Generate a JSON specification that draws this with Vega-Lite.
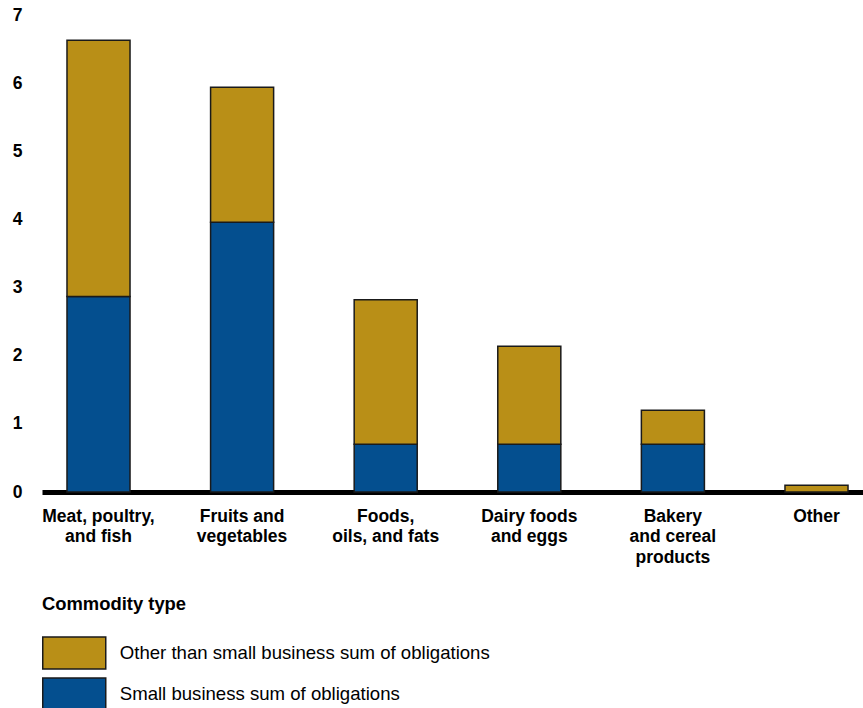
{
  "$schema": "https://vega.github.io/schema/vega-lite/v6.json",
  "width": 831,
  "height": 477,
  "autosize": {"type": "none"},
  "padding": {"left": 42, "top": 15, "right": 0, "bottom": 216},
  "background": "white",
  "config": {
    "font": "Liberation Sans",
    "view": {"stroke": null}
  },
  "data": {
    "values": [
      {"category": "Meat, poultry, and fish", "series": "Small business sum of obligations", "value": 2.87},
      {"category": "Meat, poultry, and fish", "series": "Other than small business sum of obligations", "value": 3.76},
      {"category": "Fruits and vegetables", "series": "Small business sum of obligations", "value": 3.96},
      {"category": "Fruits and vegetables", "series": "Other than small business sum of obligations", "value": 1.98},
      {"category": "Foods, oils, and fats", "series": "Small business sum of obligations", "value": 0.7},
      {"category": "Foods, oils, and fats", "series": "Other than small business sum of obligations", "value": 2.12},
      {"category": "Dairy foods and eggs", "series": "Small business sum of obligations", "value": 0.7},
      {"category": "Dairy foods and eggs", "series": "Other than small business sum of obligations", "value": 1.44},
      {"category": "Bakery and cereal products", "series": "Small business sum of obligations", "value": 0.7},
      {"category": "Bakery and cereal products", "series": "Other than small business sum of obligations", "value": 0.5},
      {"category": "Other", "series": "Small business sum of obligations", "value": 0.0},
      {"category": "Other", "series": "Other than small business sum of obligations", "value": 0.1}
    ]
  },
  "mark": {"type": "bar", "stroke": "#1a1a1a", "strokeWidth": 1.5},
  "encoding": {
    "x": {
      "field": "category",
      "type": "nominal",
      "sort": null,
      "scale": {"paddingInner": 0.561, "paddingOuter": 0.174},
      "axis": {
        "title": null,
        "labelAngle": 0,
        "domain": true,
        "domainColor": "black",
        "domainWidth": 5,
        "ticks": false,
        "labelPadding": 15,
        "labelFontSize": 17.5,
        "labelFontWeight": "bold",
        "labelColor": "black",
        "labelLineHeight": 20.5,
        "labelBaseline": "top",
        "labelLimit": 300,
        "labelExpr": "datum.value == 'Meat, poultry, and fish' ? ['Meat, poultry,', 'and fish'] : datum.value == 'Fruits and vegetables' ? ['Fruits and', 'vegetables'] : datum.value == 'Foods, oils, and fats' ? ['Foods,', 'oils, and fats'] : datum.value == 'Dairy foods and eggs' ? ['Dairy foods', 'and eggs'] : datum.value == 'Bakery and cereal products' ? ['Bakery', 'and cereal', 'products'] : datum.value"
      }
    },
    "y": {
      "field": "value",
      "type": "quantitative",
      "stack": "zero",
      "scale": {"domain": [0, 7], "nice": false},
      "axis": {
        "title": null,
        "domain": false,
        "ticks": false,
        "grid": false,
        "values": [0, 1, 2, 3, 4, 5, 6, 7],
        "labelPadding": 20,
        "labelFontSize": 17.5,
        "labelFontWeight": "bold",
        "labelColor": "black"
      }
    },
    "color": {
      "field": "series",
      "type": "nominal",
      "scale": {
        "domain": ["Other than small business sum of obligations", "Small business sum of obligations"],
        "range": ["#B98F17", "#044F8F"]
      },
      "legend": {
        "title": "Commodity type",
        "orient": "none",
        "legendX": 0,
        "legendY": 580,
        "direction": "vertical",
        "titleFontSize": 18.4,
        "titleFontWeight": "bold",
        "titleColor": "black",
        "titlePadding": 23,
        "titleLimit": 500,
        "labelFontSize": 18.6,
        "labelColor": "black",
        "labelOffset": 29,
        "labelLimit": 600,
        "rowPadding": 2,
        "symbolOffset": 15.75,
        "symbolType": "M-2,-1.016H2V1.016H-2Z",
        "symbolSize": 992.25,
        "symbolStrokeColor": "#1a1a1a",
        "symbolStrokeWidth": 1.5,
        "symbolOpacity": 1
      }
    },
    "order": {"field": "series", "sort": "descending"}
  }
}
